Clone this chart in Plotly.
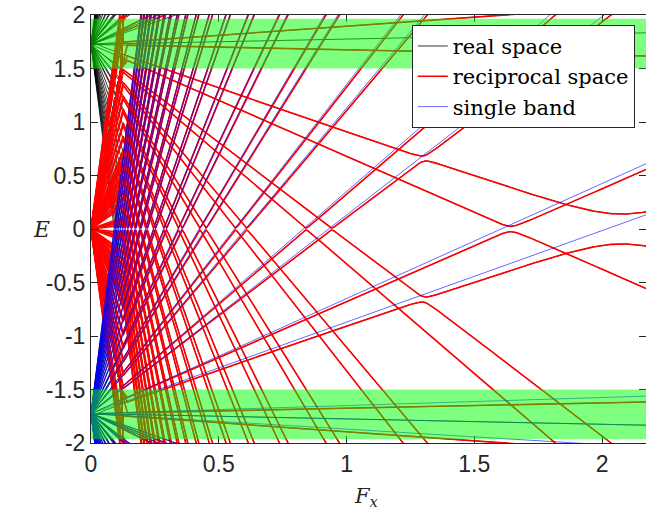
import numpy as np
import plotly.graph_objects as go

# ---- data ----
band_centre = 1.725            # ladders start at +/- this energy at F_x = 0
ladder_orders = list(range(-3, 20))     # integer ladder index m
ladder_offsets = [-0.17, 0.05]          # two sub-ladders per order
pair_gaps = {0.83: 0.14, 1.05: 0.025}   # large anticrossings at E = 0
default_gap = 0.01
extra_anticrossings = [(1.83, 0.83, 0.025)]   # (slope a, slope b, gap)
fan_end_F = 0.118              # reciprocal-space fan from the origin ends here
fan_edge_E = 1.5
single_band_shift = 0.025      # single-band slope offset vs. exact
real_space_sparse_above = 5.5  # steeper real-space lines only on one sub-ladder near F=0
green_bands = [(1.5, 1.965), (-1.965, -1.5)]
x_ticks = [0, 0.5, 1, 1.5, 2]
y_ticks = [-2, -1.5, -1, -0.5, 0, 0.5, 1, 1.5, 2]
F_max = 2.172

slopes = sorted(round(m + d, 3) for m in ladder_orders for d in ladder_offsets)


def grid(F0, F1, extra=None):
    g = np.linspace(F0, F1, 260)
    if extra is not None:
        g = np.unique(np.concatenate([g, extra[(extra > F0) & (extra < F1)]]))
    return g


def branches(s, F):
    g = pair_gaps.get(s, default_gap)
    r = np.sqrt((s * F - band_centre) ** 2 + g ** 2)
    return r, -r


# exact branches of every crossing pair (up-ladder of lower band meets
# down-ladder of upper band at E = 0)
exact = {}
for s in slopes:
    if s > 0:
        g = pair_gaps.get(s, default_gap)
        F = grid(0, F_max, band_centre / s + np.linspace(-8, 8, 41) * g / s)
        exact[s] = [F, *branches(s, F)]

# additional anticrossings between branches of different pairs
for a, b, gap in extra_anticrossings:
    Fc = 2 * band_centre / (a + b)
    ext = Fc + np.linspace(-8, 8, 41) * gap / abs(a - b)
    F = np.unique(np.concatenate([exact[a][0], exact[b][0], ext]))
    F = F[(F >= 0) & (F <= F_max)]
    upA, dnA = branches(a, F)
    upB, dnB = branches(b, F)
    mu, hu = (upA + upB) / 2, np.sqrt(((upA - upB) / 2) ** 2 + gap ** 2)
    md, hd = (dnA + dnB) / 2, np.sqrt(((dnA - dnB) / 2) ** 2 + gap ** 2)
    exact[a] = [F, mu - hu, md + hd]
    exact[b] = [F, mu + hu, md - hd]

black_x, black_y = [], []
red_x, red_y = [], []
blue_x, blue_y = [], []


def add(xs, ys, F, E):
    xs.extend(np.asarray(F).tolist()); ys.extend(np.asarray(E).tolist())
    xs.append(None); ys.append(None)


for s in slopes:
    if s > 0:
        F, up, dn = exact[s]
        sparse = s > real_space_sparse_above and abs((s % 1) - 0.83) < 1e-6
        Fstart = fan_end_F if sparse else 0.0
        kb = F >= Fstart
        add(black_x, black_y, F[kb], up[kb])
        add(black_x, black_y, F[kb], dn[kb])
        sel = F >= fan_end_F
        Fr = F[sel]
        for E in (up[sel], dn[sel]):
            Ec = E[0]
            if abs(Ec) <= fan_edge_E:
                Fx = np.concatenate([[0.0], Fr]); Ey = np.concatenate([[0.0], E])
            else:
                keep = Fr >= fan_end_F + 0.022
                Fx = np.concatenate([[0.0, fan_end_F], Fr[keep]])
                Ey = np.concatenate([[0.0, np.sign(Ec) * fan_edge_E], E[keep]])
            add(red_x, red_y, Fx, Ey)
        # outward members of the ladders (leave the window quickly)
        Fo = grid(0, min(F_max, 0.6 / s + 0.01))
        for E in (band_centre + s * Fo, -band_centre - s * Fo):
            if not sparse:
                add(black_x, black_y, Fo, E)
            sg = np.sign(E[0])
            add(red_x, red_y, [0.0, fan_end_F, fan_end_F + 0.02],
                [0.0, sg * fan_edge_E, sg * 2.6])
        add(blue_x, blue_y, Fo, -band_centre - s * Fo)
    else:
        Fb = grid(0, F_max)
        Fr = grid(fan_end_F, F_max)
        for c in (-band_centre, band_centre):
            sg = 1 if c < 0 else -1
            add(black_x, black_y, Fb, c + sg * s * Fb)
            add(red_x, red_y, np.concatenate([[0.0], Fr]),
                np.concatenate([[0.0], c + sg * s * Fr]))
    # single band: lower band ladder
    Fs = grid(0, F_max)
    add(blue_x, blue_y, Fs, -band_centre + (s + single_band_shift) * Fs)

fig = go.Figure()
fig.add_trace(go.Scatter(x=black_x, y=black_y, mode="lines", name="real space",
                         line=dict(color="black", width=0.8)))
fig.add_trace(go.Scatter(x=red_x, y=red_y, mode="lines", name="reciprocal space",
                         line=dict(color="red", width=1.6)))
fig.add_trace(go.Scatter(x=blue_x, y=blue_y, mode="lines", name="single band",
                         line=dict(color="blue", width=0.6)))

for lo_, hi_ in green_bands:
    fig.add_shape(type="rect", xref="x", yref="y", x0=0, x1=F_max, y0=lo_, y1=hi_,
                  fillcolor="rgba(0,255,0,0.5)", line=dict(width=0), layer="above")

axis_common = dict(showgrid=False, zeroline=False, showline=True, linecolor="#262626",
                   linewidth=1, mirror="ticks", ticks="inside", ticklen=7,
                   tickcolor="#262626", tickfont=dict(family="Liberation Sans", size=23,
                                                      color="#262626"))
fig.update_xaxes(range=[0, F_max], tickvals=x_ticks, ticktext=[f"{v:g}" for v in x_ticks],
                 **axis_common)
fig.update_yaxes(range=[-2, 2], tickvals=y_ticks, ticktext=[f"{v:g}" for v in y_ticks],
                 **axis_common)
fig.add_annotation(text="<i>E</i>", xref="paper", yref="paper", x=-0.09, y=0.5,
                   xanchor="center", yanchor="middle", showarrow=False,
                   font=dict(family="DejaVu Serif", size=22, color="#262626"))
fig.add_annotation(text="<i>F</i><sub><i>x</i></sub>", xref="paper", yref="paper",
                   x=0.497, y=-0.125, xanchor="center", yanchor="middle", showarrow=False,
                   font=dict(family="DejaVu Serif", size=21, color="#262626"))
fig.update_layout(
    width=646, height=512, margin=dict(l=91, r=0, t=15, b=69),
    paper_bgcolor="white", plot_bgcolor="white",
    legend=dict(x=0.578, y=0.977, xanchor="left", yanchor="top",
                bgcolor="white", bordercolor="#262626", borderwidth=1,
                font=dict(family="DejaVu Serif", size=21, color="black"),
                itemwidth=30, tracegroupgap=0),
)
fig.write_html("out.html")
